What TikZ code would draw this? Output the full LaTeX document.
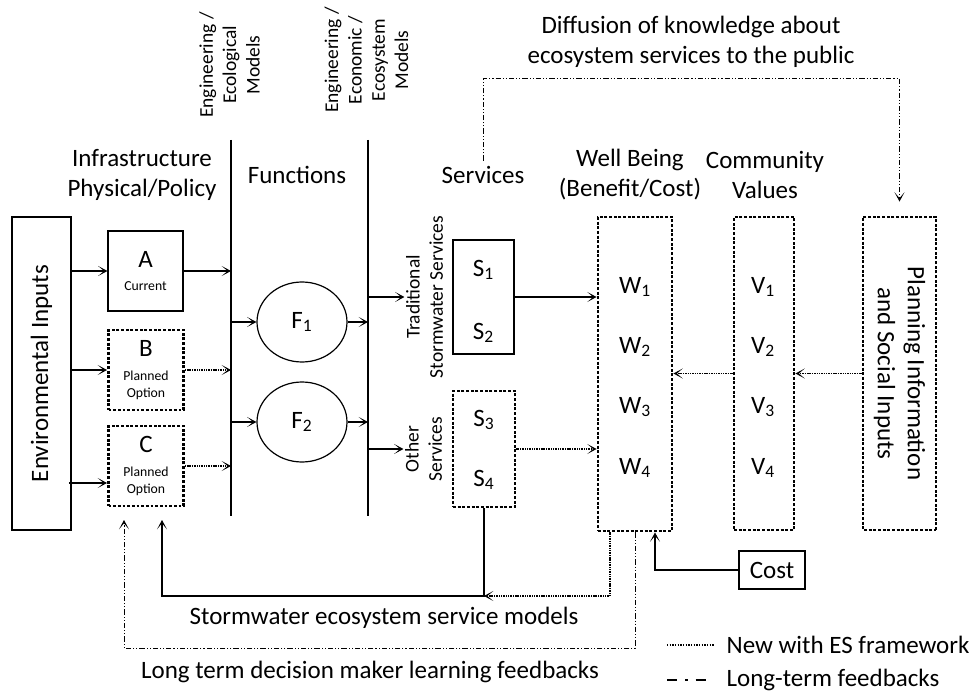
\documentclass[tikz,border=0pt]{standalone}
\usepackage{fontspec}
\setmainfont{Carlito}
\usetikzlibrary{arrows.meta}
\usetikzlibrary{positioning}
\usetikzlibrary{shapes.geometric}

\newcommand{\bigtxt}{\fontsize{18.75}{22.5}\selectfont}
\newcommand{\midtxt}{\fontsize{14.6}{17.5}\selectfont}
\newcommand{\smalltxt}{\fontsize{10.3}{12.8}\selectfont}

\begin{document}
\begin{tikzpicture}[x=0.75pt,y=-0.75pt,
  box/.style={draw,line width=0.9pt,inner sep=0pt},
  dbox/.style={draw,line width=2.2pt,dash pattern=on 2.2pt off 1.3pt,inner sep=0pt},
  lbl/.style={font=\bigtxt,align=center,inner sep=1pt},
  midlbl/.style={font=\midtxt,align=center,inner sep=1pt},
  optlbl/.style={font=\smalltxt,align=center,minimum width=56.25pt,minimum height=60pt},
  tip/.style={-{Stealth[length=7pt,width=7.5pt,inset=4.5pt]}},
  arr/.style={line width=0.9pt,tip},
  darr/.style={line width=0.8pt,dash pattern=on 0.8pt off 0.5pt,tip},
  ddot/.style={line width=0.75pt,dash pattern=on 4pt off 1.5pt on 0.8pt off 1.5pt on 0.8pt off 1.5pt}]
\useasboundingbox (0,0) rectangle (970,691);

% column headings
\node[lbl] (infra) at (142,175) {Infrastructure\\Physical/Policy};
\node[lbl] (func) at (297,175) {Functions};
\node[lbl] (services) at (483,175) {Services};
\node[lbl] (wellb) at (630,175) {Well Being\\(Benefit/Cost)};
\node[lbl] (commv) at (765,175) {Community\\Values};
\node[lbl] (diff) at (691,42) {Diffusion of knowledge about\\ecosystem services to the public};
\node[midlbl,rotate=90] (ecomod) at (229.5,65) {Engineering /\\Ecological\\Models};
\node[midlbl,rotate=90] (esmod) at (366.5,60) {Engineering /\\Economic /\\Ecosystem\\Models};

% model bars
\coordinate (m1t) at (231,140);
\coordinate (m1b) at (231,516);
\coordinate (m2t) at (368,140);
\coordinate (m2b) at (368,516);
\draw[line width=0.9pt] (m1t) -- (m1b);
\draw[line width=0.9pt] (m2t) -- (m2b);

% inputs and infrastructure options
\node[box,rotate=90,minimum width=234.75pt,minimum height=44.25pt,font=\bigtxt] (env) at (41.5,373.5) {Environmental Inputs};
\node[box,optlbl] (A) at (145.5,271) {{\bigtxt A}\\[4pt]Current};
\node[dbox,optlbl] (B) at (146,370) {{\bigtxt B}\\[5pt]Planned\\Option};
\node[dbox,optlbl] (C) at (146,466) {{\bigtxt C}\\[5pt]Planned\\Option};

\draw[arr] (env.south |- A.west) -- (A.west);
\draw[arr] (env.south |- B.west) -- (B.west);
\draw[arr] ([xshift=-2pt]env.south |- 0,483) -- (C.west |- 0,483);
\draw[arr] (A.east) -- (A.east -| m1t);
\draw[darr] (B.east) -- (B.east -| m1t);
\draw[darr] (C.east) -- (C.east -| m1t);

% functions
\node[draw,ellipse,line width=0.9pt,minimum width=67.5pt,minimum height=60pt,font=\bigtxt] (F1) at (302,322) {F\textsubscript{1}};
\node[draw,ellipse,line width=0.9pt,minimum width=67.5pt,minimum height=60pt,font=\bigtxt] (F2) at (302,422) {F\textsubscript{2}};
\draw[arr] (F1.west -| m1t) -- (F1.west);
\draw[arr] (F2.west -| m1t) -- (F2.west);
\draw[arr] (F1.east) -- (F1.east -| m2t);
\draw[arr] (F2.east) -- (F2.east -| m2t);

% services
\node[midlbl,rotate=90] (trad) at (424.5,297) {Traditional\\Stormwater Services};
\node[midlbl,rotate=90] (other) at (423.5,449) {Other\\Services};
\draw[arr] (trad.north -| m2t) -- (trad.north);
\draw[arr] (other.north -| m2t) -- (other.north);
\node[box,minimum width=45.75pt,minimum height=85.5pt] (S12) at (483.5,297) {};
\node[dbox,minimum width=46.5pt,minimum height=87pt] (S34) at (484,449) {};
\node[lbl] (s1) at (483.5,270) {S\textsubscript{1}};
\node[lbl] (s2) at (483.5,333) {S\textsubscript{2}};
\node[lbl] (s3) at (484,420) {S\textsubscript{3}};
\node[lbl] (s4) at (484,480) {S\textsubscript{4}};

% well being, values, planning
\node[dbox,minimum width=55.5pt,minimum height=235.5pt] (W) at (635,374) {};
\node[dbox,minimum width=45pt,minimum height=234.75pt] (V) at (764,373.5) {};
\node[dbox,rotate=-90,minimum width=234.75pt,minimum height=54.75pt,align=center,font=\bigtxt] (P) at (899.5,373.5) {Planning Information\\and Social Inputs};
\foreach \i/\y in {1/287,2/347,3/407,4/468}{
  \node[lbl] (w\i) at (635,\y) {W\textsubscript{\i}};
  \node[lbl] (v\i) at (763,\y) {V\textsubscript{\i}};
}
\node[box,minimum width=49.5pt,minimum height=28.5pt,font=\bigtxt] (cost) at (772,570) {Cost};

\draw[arr] (S12.east) -- (S12.east -| W.west);
\draw[darr] (S34.east) -- (S34.east -| W.west);
\draw[darr] (V.west) -- (V.west -| W.east);
\draw[darr] (P.south) -- (P.south -| V.east);
\draw[arr] (cost.west) -| ([xshift=15pt]W.south);

% feedbacks
\coordinate (cfb) at (162,520);
\coordinate (lfb) at (124,520);
\draw[arr] (S34.south) |- (cfb |- 0,596) -- (cfb);
\draw[darr] ([xshift=-18.75pt]W.south) |- (S34.south |- 0,596);
\draw[ddot,tip] (W.south) |- (lfb |- 0,648) -- (lfb);
\draw[ddot,tip] ([yshift=3pt]services.north) |- (P.west |- 0,79) -- ([yshift=10.5pt]P.west);
\node[lbl] (swmod) at (384,618) {Stormwater ecosystem service models};
\node[lbl] (ltfb) at (370,672) {Long term decision maker learning feedbacks};

% legend
\coordinate (lg1) at (667,645);
\coordinate (lg2) at (667,680);
\node[lbl,anchor=west] (lgnew) at (725,645) {New with ES framework};
\node[lbl,anchor=west] (lglong) at (725,680) {Long-term feedbacks};
\draw[line width=1pt,dash pattern=on 1pt off 1pt] (lg1) -- ([xshift=-8pt]lg1 -| lgnew.west);
\draw[line width=1.6pt,dash pattern=on 7.5pt off 6pt on 2pt off 6pt] (lg2) -- ++(39,0);

\end{tikzpicture}
\end{document}
